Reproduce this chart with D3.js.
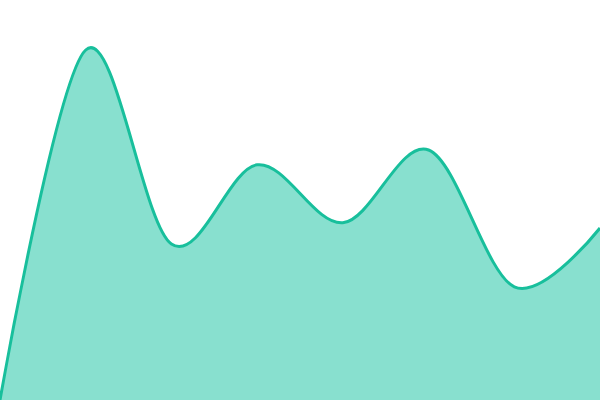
<!DOCTYPE html>
<html><head><meta charset="utf-8">
<script src="https://cdn.jsdelivr.net/npm/d3@7"></script>
<style>html,body{margin:0;padding:0;background:#fff;overflow:hidden}</style>
</head><body>
<svg id="chart" width="600" height="400"></svg>
<script>
const categories = [0, 1, 2, 3, 4, 5, 6, 7];
const values = [0, 87.5, 39, 58.8, 44.3, 62.5, 28.3, 43];

const W = 600, H = 400;
const svg = d3.select("#chart");
const x = d3.scaleLinear().domain([0, categories.length - 1]).range([0, W]);
const y = d3.scaleLinear().domain([0, 100]).range([H, 0]);

const data = categories.map((c, i) => ({c, v: values[i]}));
const area = d3.area().x(d => x(d.c)).y0(H).y1(d => y(d.v)).curve(d3.curveCardinal);
const line = d3.line().x(d => x(d.c)).y(d => y(d.v)).curve(d3.curveCardinal);

svg.append("path").datum(data).attr("d", area).attr("fill", "#88e0cf");
svg.append("path").datum(data).attr("d", line).attr("fill", "none").attr("stroke", "#18bf9c").attr("stroke-width", 3);
</script>
</body></html>
